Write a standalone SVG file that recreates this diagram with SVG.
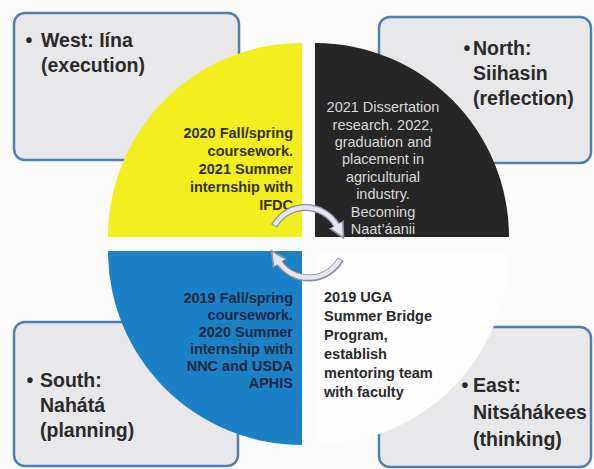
<svg xmlns="http://www.w3.org/2000/svg" width="594" height="469" viewBox="0 0 594 469">
<defs>
<style>
.box{fill:#e8e8eb;stroke:#4f7fb8;stroke-width:2.5}
.lbl{font-family:"Liberation Sans",Arial,sans-serif;font-weight:bold;font-size:19.5px;fill:#2a2a2a}
.q{font-family:"Liberation Sans",Arial,sans-serif;font-weight:bold;font-size:14.5px}
.arcO{fill:none;stroke:#8d93a0;stroke-width:7;stroke-linecap:butt}
.arcI{fill:none;stroke:#e4e7f0;stroke-width:4.5;stroke-linecap:butt}
</style>
<marker id="ah" viewBox="0 0 10 10" refX="1" refY="5" markerWidth="2.4" markerHeight="2.4" orient="auto" markerUnits="strokeWidth">
<path d="M0,0.5 L9,5 L0,9.5 Z" fill="#e4e7f0" stroke="#8d93a0" stroke-width="1"/>
</marker>
</defs>
<rect width="594" height="469" fill="#fbfbfb"/>
<g id="west-box"><rect class="box" x="14" y="13" width="225" height="147" rx="11"/></g>
<g id="north-box"><rect class="box" x="379" y="17" width="212" height="146" rx="11"/></g>
<g id="south-box"><rect class="box" x="14" y="322" width="224" height="144" rx="11"/></g>
<g id="east-box"><rect class="box" x="379" y="327" width="212" height="140" rx="11"/></g>

<g id="q-yellow"><path d="M302,237 L108,237 A194,194 0 0 1 302,43 Z" fill="#f3ee1d"/>
<text class="q" fill="#33331a" text-anchor="end"><tspan x="293" y="138">2020 Fall/spring</tspan><tspan x="293" y="156">coursework.</tspan><tspan x="293" y="174">2021 Summer</tspan><tspan x="293" y="192">internship with</tspan><tspan x="293" y="210">IFDC</tspan></text></g>
<g id="q-black"><path d="M315,237 L315,43 A194,194 0 0 1 509,237 Z" fill="#262626"/>
<text class="q" fill="#d9d9d9" text-anchor="middle" style="font-size:14.5px;font-weight:normal"><tspan x="383" y="112">2021 Dissertation</tspan><tspan x="383" y="129.5">research. 2022,</tspan><tspan x="383" y="147">graduation and</tspan><tspan x="383" y="164">placement in</tspan><tspan x="383" y="182">agriculturial</tspan><tspan x="383" y="199">industry.</tspan><tspan x="383" y="217">Becoming</tspan><tspan x="383" y="234">Naat’áanii</tspan></text></g>
<g id="q-blue"><path d="M302,251 L302,445 A194,194 0 0 1 108,251 Z" fill="#1c80c6"/>
<text class="q" fill="#1b2a44" text-anchor="end"><tspan x="293" y="303">2019 Fall/spring</tspan><tspan x="293" y="320">coursework.</tspan><tspan x="293" y="337">2020 Summer</tspan><tspan x="293" y="354">internship with</tspan><tspan x="293" y="371">NNC and USDA</tspan><tspan x="293" y="388">APHIS</tspan></text></g>
<g id="q-white"><path d="M315,251 L509,251 A194,194 0 0 1 315,445 Z" fill="#fdfdfd"/>
<text class="q" fill="#2a2a2a"><tspan x="324" y="302">2019 UGA</tspan><tspan x="324" y="321">Summer Bridge</tspan><tspan x="324" y="340">Program,</tspan><tspan x="324" y="359">establish</tspan><tspan x="324" y="378">mentoring team</tspan><tspan x="324" y="397">with faculty</tspan></text></g>

<g id="west-label" class="lbl"><text x="29" y="47" text-anchor="middle">•</text><text><tspan x="41" y="47">West: Iína</tspan><tspan x="41" y="72">(execution)</tspan></text></g>
<g id="north-label" class="lbl"><text x="467" y="55" text-anchor="middle">•</text><text><tspan x="473" y="55">North:</tspan><tspan x="473" y="80">Siihasin</tspan><tspan x="473" y="105">(reflection)</tspan></text></g>
<g id="south-label" class="lbl"><text x="30" y="387" text-anchor="middle">•</text><text><tspan x="40" y="387">South:</tspan><tspan x="40" y="412">Nahátá</tspan><tspan x="40" y="437">(planning)</tspan></text></g>
<g id="east-label" class="lbl"><text x="465" y="392" text-anchor="middle">•</text><text><tspan x="473" y="392">East:</tspan><tspan x="473" y="419">Nitsáhákees</tspan><tspan x="473" y="446">(thinking)</tspan></text></g>

<g id="connectors">
<path class="arcO" d="M274,226 A36,36 0 0 1 337,226" marker-end="url(#ah)"/>
<path class="arcI" d="M274.6,225.2 A36,36 0 0 1 337,226"/>
<path class="arcO" d="M340.6,259.2 A36,36 0 0 1 279,262" marker-end="url(#ah)"/>
<path class="arcI" d="M339.8,259.7 A36,36 0 0 1 279,262"/>
</g>
</svg>
